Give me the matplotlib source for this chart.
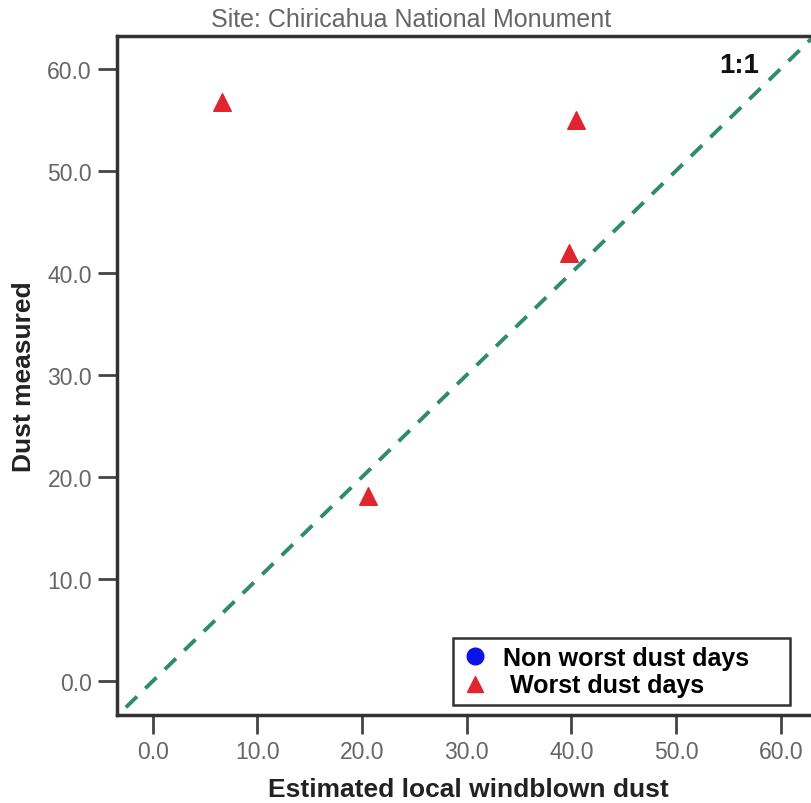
import matplotlib
import matplotlib.pyplot as plt
from matplotlib.lines import Line2D

matplotlib.rcParams["font.family"] = ["Liberation Sans", "DejaVu Sans"]

# worst dust days: estimated local windblown dust vs measured dust
worst_est = [6.6, 40.4, 39.8, 20.6]
worst_meas = [56.7, 55.0, 41.9, 18.1]

x_ticks = [0, 10, 20, 30, 40, 50, 60]
y_ticks = [0, 10, 20, 30, 40, 50, 60]
one_to_one = [-10, 80]

fig = plt.figure(figsize=(8.12, 8.04), dpi=100)
ax = fig.add_axes([117 / 812, 1 - 716 / 804, 760 / 812, (716 - 37) / 804])

ax.plot(one_to_one, one_to_one, linestyle=(0, (4, 3)), color="#2e8b6e", linewidth=2.8, zorder=1)
ax.scatter(worst_est, worst_meas, marker="^", s=160, color="#e0252f", zorder=3)

ax.set_xlim(-3.4, 69.2)
ax.set_ylim(-3.3, 63.2)
ax.set_xticks(x_ticks)
ax.set_yticks(y_ticks)
ax.set_xticklabels([f"{v:.1f}" for v in x_ticks])
ax.set_yticklabels([f"{v:.1f}" for v in y_ticks])

for side in ["left", "bottom", "top", "right"]:
    ax.spines[side].set_linewidth(2.5)
    ax.spines[side].set_color("#333333")
ax.tick_params(direction="out", length=14, width=2, color="#444444",
               labelsize=16.5, labelcolor="#666666", pad=4)

ax.set_xlabel("Estimated local windblown dust", fontsize=19, fontweight="bold", color="#222222")
ax.set_ylabel("Dust measured", fontsize=19, fontweight="bold", color="#222222", labelpad=8)
# the plot area runs past the right edge, so centre the x label on the visible part
ax.xaxis.set_label_coords((468 - 117) / 760, -(790 - 716) / 679, transform=ax.transAxes)
ax.xaxis.label.set_va("center")

fig.text(411 / 812, 1 - 20 / 804, "Site: Chiricahua National Monument", ha="center", va="center",
         fontsize=18, color="#666666")
ax.text(57.9, 60.4, "1:1", ha="right", va="center",
        fontsize=20, fontweight="bold", color="#111111")

handles = [
    Line2D([], [], marker="o", linestyle="none", markersize=12, color="#0a14e6"),
    Line2D([], [], marker="^", linestyle="none", markersize=12, color="#e0252f"),
]
labels = ["Non worst dust days", " Worst dust days"]
leg = fig.legend(handles, labels, loc="lower left",
                 bbox_to_anchor=(453 / 812, 1 - 706 / 804, (790 - 453) / 812, (706 - 622) / 804),
                 mode="expand", fancybox=False, framealpha=1, edgecolor="#333333",
                 prop={"weight": "bold", "size": 18}, handletextpad=0.5, borderpad=0.3,
                 labelspacing=0.15, handlelength=1.2, borderaxespad=0)
leg.get_frame().set_linewidth(1.8)

fig.savefig("out.png", dpi=100)
